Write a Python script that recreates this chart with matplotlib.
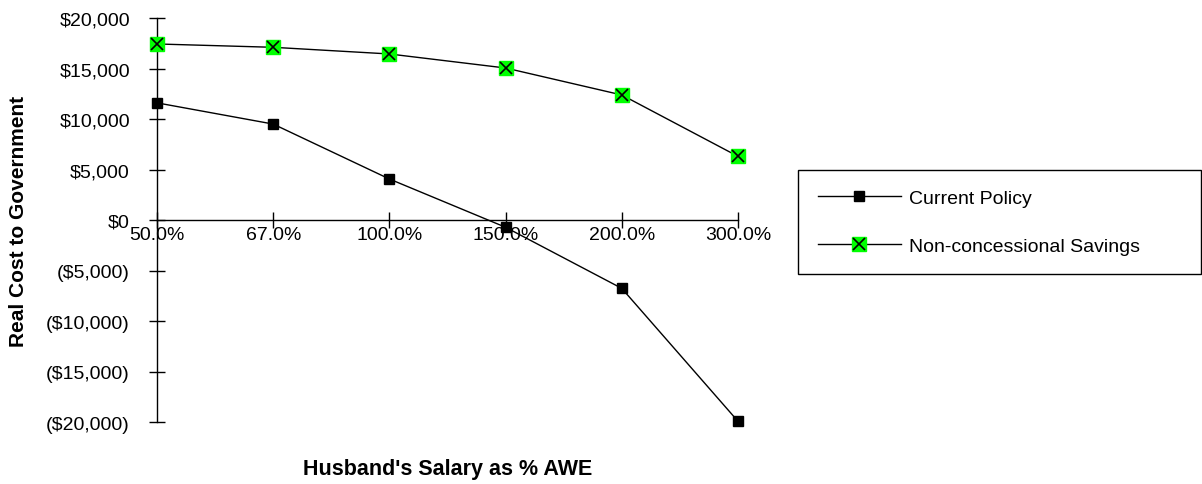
import matplotlib
matplotlib.use("Agg")
import matplotlib.pyplot as plt
from matplotlib.legend_handler import HandlerTuple
from matplotlib.ticker import FuncFormatter

plt.rcParams['font.family'] = ['Liberation Sans', 'DejaVu Sans']

salary_pct = ["50.0%", "67.0%", "100.0%", "150.0%", "200.0%", "300.0%"]
current_policy = [11600, 9500, 4060, -720, -6770, -19930]
non_concessional = [17430, 17100, 16440, 15050, 12380, 6300]

fig = plt.figure(figsize=(12.02, 4.85), dpi=100)
ax = fig.add_axes([0.1306, 0.1278, 0.4834, 0.833])

x = list(range(len(salary_pct)))

cur, = ax.plot(x, current_policy, color='black', lw=1, marker='s', ms=7,
               mfc='black', mec='black', clip_on=False, zorder=3)
ncs_line, = ax.plot(x, non_concessional, color='black', lw=1, marker='s', ms=10,
                    mfc='#00ff00', mec='#00ff00', clip_on=False, zorder=3)
ncs_x, = ax.plot(x, non_concessional, ls='none', marker='x', ms=9, mew=1.2,
                 color='black', clip_on=False, zorder=4)

ax.set_xlim(0, 5)
ax.set_ylim(-20000, 20000)
ax.set_xticks(x)
ax.set_xticklabels(salary_pct)
ax.set_yticks(range(-20000, 20001, 5000))


def money(v, pos):
    if v < 0:
        return "(${:,.0f})".format(-v)
    return "${:,.0f}".format(v)


ax.yaxis.set_major_formatter(FuncFormatter(money))

for s in ['top', 'right']:
    ax.spines[s].set_visible(False)
ax.spines['bottom'].set_position(('data', 0))
ax.spines['bottom'].set_linewidth(1)
ax.spines['left'].set_linewidth(1)
ax.tick_params(axis='both', direction='inout', length=11, width=1,
               labelsize=14, colors='black')
ax.tick_params(axis='x', pad=-1)
ax.tick_params(axis='y', pad=14)

ax.set_ylabel("Real Cost to Government", fontsize=15, fontweight='bold')
ax.yaxis.set_label_coords(-0.222, 0.5)
fig.text(0.372, 0.031, "Husband's Salary as % AWE", ha='center', va='center',
         fontsize=15.5, fontweight='bold')

leg = fig.legend([cur, (ncs_line, ncs_x)],
                 ["Current Policy", "Non-concessional Savings"],
                 handler_map={tuple: HandlerTuple(ndivide=1, pad=0)},
                 loc='lower left', bbox_to_anchor=(0.664, 0.433, 0.335, 0.2227),
                 mode='expand', numpoints=1, borderaxespad=0,
                 fontsize=14, handlelength=4.3, handletextpad=0.4,
                 labelspacing=1.55, borderpad=1.0, fancybox=False,
                 edgecolor='black', framealpha=1)
leg.get_frame().set_linewidth(1)

fig.savefig("out.png", dpi=100)
